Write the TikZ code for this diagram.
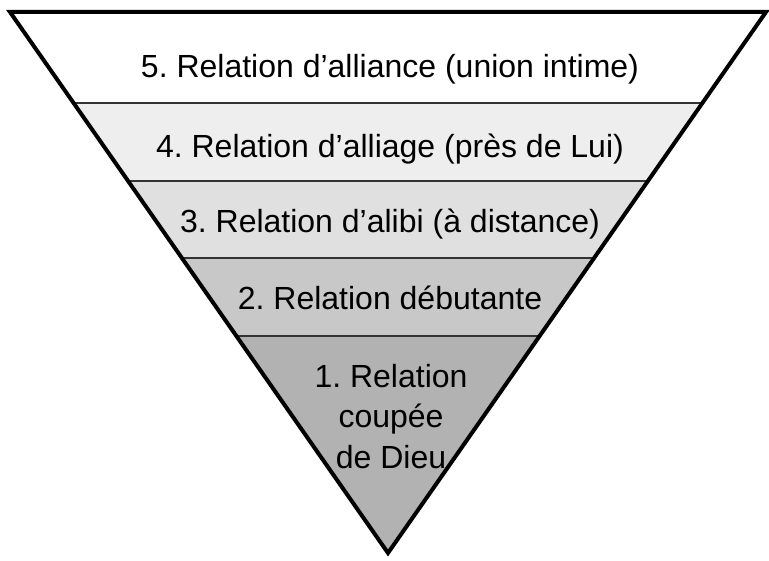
\documentclass[tikz,border=0pt]{standalone}
\usepackage{fontspec}
\setmainfont{Liberation Sans}
\frenchspacing
\definecolor{bandA}{HTML}{B2B2B2}
\definecolor{bandB}{HTML}{C8C8C8}
\definecolor{bandC}{HTML}{E0E0E0}
\definecolor{bandD}{HTML}{EEEEEE}
\definecolor{bandE}{HTML}{FFFFFF}
\definecolor{sepline}{HTML}{333333}
\begin{document}
\begin{tikzpicture}[x=1pt,y=-1pt,
  lbl/.style={anchor=base,font=\fontsize{32}{40}\selectfont\frenchspacing,text=black,inner sep=0pt},
  sep/.style={draw=sepline,line width=1.2pt},
  outline/.style={draw=black,line width=4pt,line join=miter}]
\useasboundingbox (0,0) rectangle (769,561);
\coordinate (TL) at (10,12);
\coordinate (TR) at (766,12);
\coordinate (AP) at (388,553);
\begin{scope}
  \clip (TL) -- (TR) -- (AP) -- cycle;
  \fill[bandE] (0,0) rectangle (769,103);
  \fill[bandD] (0,103) rectangle (769,181);
  \fill[bandC] (0,181) rectangle (769,258);
  \fill[bandB] (0,258) rectangle (769,336);
  \fill[bandA] (0,336) rectangle (769,561);
  \coordinate (s1l) at (0,103); \coordinate (s1r) at (769,103);
  \coordinate (s2l) at (0,181); \coordinate (s2r) at (769,181);
  \coordinate (s3l) at (0,258); \coordinate (s3r) at (769,258);
  \coordinate (s4l) at (0,336); \coordinate (s4r) at (769,336);
  \draw[sep] (s1l) -- (s1r);
  \draw[sep] (s2l) -- (s2r);
  \draw[sep] (s3l) -- (s3r);
  \draw[sep] (s4l) -- (s4r);
\end{scope}
\draw[outline] (TL) -- (TR) -- (AP) -- cycle;
\node[lbl] (t5) at (390,78) {5. Relation d’alliance (union intime)};
\node[lbl] (t4) at (390,158) {4. Relation d’alliage (près de Lui)};
\node[lbl] (t3) at (390,233) {3. Relation d’alibi (à distance)};
\node[lbl] (t2) at (390,310) {2. Relation débutante};
\node[lbl] (t1a) at (391,388) {1. Relation};
\node[lbl] (t1b) at (391,428) {coupée};
\node[lbl] (t1c) at (391,468) {de Dieu};
\end{tikzpicture}
\end{document}
